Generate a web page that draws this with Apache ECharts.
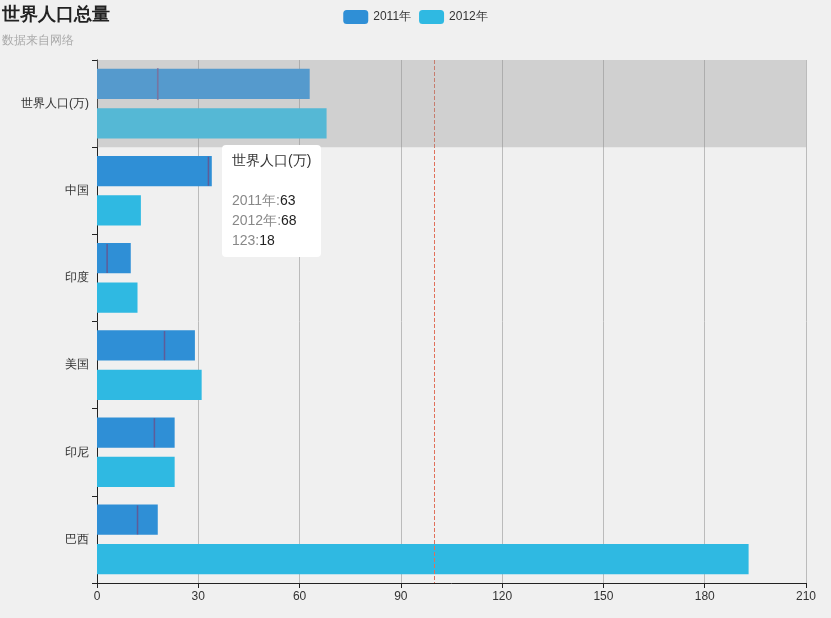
<!DOCTYPE html>
<html><head><meta charset="utf-8">
<script src="https://cdn.jsdelivr.net/npm/echarts@6/dist/echarts.min.js"></script>
<style>html,body{margin:0;padding:0;background:#f0f0f0;}#c{width:831px;height:618px;}</style>
</head><body><div id="c"></div>
<script>
const categories = ['世界人口(万)', '中国', '印度', '美国', '印尼', '巴西'];
const s2011 = [63, 34, 10, 29, 23, 18];
const s2012 = [68, 13, 12, 31, 23, 193];
const s123 = [18, 33, 3, 20, 17, 12];
const xTicks = [0, 30, 60, 90, 120, 150, 180, 210];
const refLine = 100;

const chart = echarts.init(document.getElementById('c'));
chart.setOption({
  animation: false,
  backgroundColor: '#f0f0f0',
  title: {
    text: '世界人口总量', subtext: '数据来自网络', left: 0, top: 0, padding: [6, 2],
    textStyle: { fontSize: 18, fontWeight: 'bold', color: '#222' },
    subtextStyle: { fontSize: 12, color: '#aaa' }, itemGap: 11
  },
  legend: {
    data: ['2011年', '2012年'], top: 5, left: 'center',
    textStyle: { fontSize: 12, color: '#333' }
  },
  tooltip: {
    trigger: 'axis',
    axisPointer: { type: 'shadow', shadowStyle: { color: 'rgba(150,150,150,0.35)' }, z: 100 },
    backgroundColor: '#fff', borderWidth: 0, padding: [5, 10, 7, 10],
    extraCssText: 'box-shadow:none;border-radius:4px;',
    formatter: function (params) {
      let h = '<div style="font-size:14px;color:#333;line-height:20px">' + params[0].name + '<br/><br/>';
      params.forEach(p => {
        const v = Array.isArray(p.value) ? p.value[0] : p.value;
        h += '<span style="color:#888">' + p.seriesName + ':</span><span style="color:#222">' + v + '</span><br/>';
      });
      return h + '</div>';
    }
  },
  grid: { left: 97, right: 25, top: 60, bottom: 35 },
  xAxis: {
    type: 'value', min: 0, max: 210, interval: 30,
    axisLine: { show: true, lineStyle: { color: '#222' } },
    axisTick: { show: true, lineStyle: { color: '#222' } },
    axisLabel: { color: '#333', fontSize: 12, formatter: v => xTicks.includes(v) ? String(v) : '' },
    splitLine: { show: true, lineStyle: { color: '#bbb' } }
  },
  yAxis: {
    type: 'category', inverse: true, data: categories,
    axisLine: { lineStyle: { color: '#222' } },
    axisTick: { show: true, length: 5, lineStyle: { color: '#222' } },
    axisLabel: { color: '#333', fontSize: 12 }
  },
  series: [
    {
      name: '2011年', type: 'bar', data: s2011, z: 2, barGap: '30%', barCategoryGap: '20%',
      itemStyle: { color: '#2f8fd6' },
      markLine: {
        silent: true, symbol: 'none', label: { show: false },
        lineStyle: { color: '#e0705a', type: 'dashed', width: 1 },
        data: [{ xAxis: refLine }]
      }
    },
    {
      name: '2012年', type: 'bar', data: s2012, z: 2, barGap: '30%', barCategoryGap: '20%',
      itemStyle: { color: '#2fb9e2' }
    },
    {
      name: '123', type: 'scatter', data: s123.map((v, i) => [v, categories[i]]),
      symbol: 'rect', symbolSize: [1.5, 29], symbolOffset: [0, -19.5], z: 5,
      itemStyle: { color: '#6a4f8a' }
    }
  ]
});
setTimeout(() => chart.dispatchAction({ type: 'showTip', x: 202, y: 125 }), 50);
</script></body></html>
